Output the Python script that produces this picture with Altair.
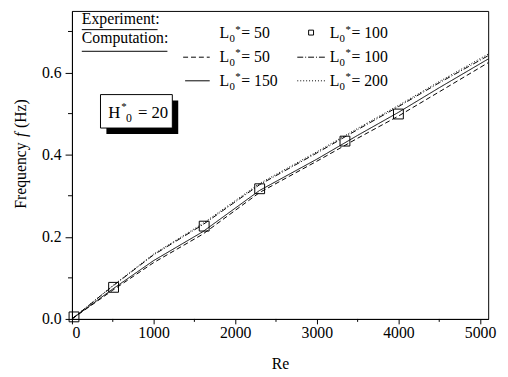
import altair as alt
import pandas as pd

# ---------------- data ----------------
re_vals = [0, 500, 1000, 1600, 2300, 3000, 3500, 4000, 4500, 5100]
f_L50 = [0.0, 0.070, 0.137, 0.206, 0.308, 0.384, 0.440, 0.494, 0.553, 0.624]
f_L100 = [0.0, 0.080, 0.156, 0.229, 0.327, 0.404, 0.461, 0.517, 0.575, 0.641]
f_L150 = [0.0, 0.073, 0.142, 0.212, 0.313, 0.389, 0.447, 0.503, 0.563, 0.633]
f_L200 = [0.0, 0.081, 0.158, 0.232, 0.330, 0.407, 0.464, 0.520, 0.578, 0.645]
series_names = ["L50", "L100", "L150", "L200"]

exp_re = [25, 510, 1620, 2300, 3345, 4000]
exp_f = [0.005, 0.077, 0.226, 0.317, 0.433, 0.499]

x_major = [0, 1000, 2000, 3000, 4000, 5000]
x_minor = [500, 1500, 2500, 3500, 4500]
y_major = [0.0, 0.2, 0.4, 0.6]
y_minor = [0.1, 0.3, 0.5, 0.7]

# ---------------- tables ----------------
rows = []
for name, vals in zip(series_names, [f_L50, f_L100, f_L150, f_L200]):
    for r, f in zip(re_vals, vals):
        rows.append({"Re": r, "f": f, "series": name})
df_lines = pd.DataFrame(rows)
df_exp = pd.DataFrame({"Re": exp_re, "f": exp_f})

W, H = 423, 313
FONT = "Liberation Serif"

xs = alt.Scale(domain=[0, 5100], nice=False, zero=False)
ys = alt.Scale(domain=[0, 0.75], nice=False, zero=False)
x_axis = alt.Axis(values=x_major, format="d", title="Re", tickSize=5,
                  labelPadding=1, titlePadding=15)
y_axis = alt.Axis(values=y_major, format=".1f", title=None, tickSize=7,
                  labelPadding=4)


def X():
    return alt.X("Re:Q", scale=xs, axis=x_axis)


def Y():
    return alt.Y("f:Q", scale=ys, axis=y_axis)


lines = alt.Chart(df_lines).mark_line(color="black", strokeWidth=1).encode(
    x=X(), y=Y(),
    strokeDash=alt.StrokeDash(
        "series:N",
        scale=alt.Scale(domain=series_names,
                        range=[[5, 3], [6, 2, 1, 2], [1, 0], [1, 2]]),
        legend=None),
    detail="series:N",
)

points = alt.Chart(df_exp).mark_point(
    shape="square", filled=False, size=100, color="black", strokeWidth=1, opacity=1
).encode(x=X(), y=Y())

xminor = alt.Chart(pd.DataFrame({"Re": x_minor})).mark_rule(color="black").encode(
    x=X(), y=alt.value(H), y2=alt.value(H + 3))
yminor = alt.Chart(pd.DataFrame({"f": y_minor})).mark_rule(color="black").encode(
    y=Y(), x=alt.value(-4), x2=alt.value(0))


def one():
    return alt.Chart(alt.Data(values=[{}]))


def txt(x, y, s, size=16, baseline="alphabetic", **kw):
    return one().mark_text(text=s, align="left", baseline=baseline, font=FONT,
                           fontSize=size, color="black", **kw).encode(
        x=alt.value(x), y=alt.value(y))


def hline(x1, x2, y, dash=None):
    kw = {}
    if dash is not None:
        kw["strokeDash"] = dash
    return one().mark_rule(color="black", strokeWidth=1, **kw).encode(
        x=alt.value(x1), x2=alt.value(x2), y=alt.value(y))


def lstar(x, y, rest):
    # L with subscript 0 and superscript *
    return [txt(x, y, "L"), txt(x + 10, y + 4, "0", size=11),
            txt(x + 16, y - 6, "*", size=11), txt(x + 22, y, rest)]


ann = []
ann.append(txt(10, 13, "Experiment:"))
ann.append(hline(10, 87, 19))
ann.append(txt(10, 33, "Computation:"))
ann.append(hline(10, 97, 41))

r1, r2, r3 = 28, 52, 76
ann += lstar(150, r1, "= 50")
ann.append(one().mark_point(shape="square", filled=False, size=25, color="black",
                            strokeWidth=1, opacity=1).encode(
    x=alt.value(243), y=alt.value(r1 - 6)))
ann += lstar(262, r1, "= 100")

ann.append(hline(113, 140, r2 - 5, [5, 3]))
ann += lstar(150, r2, "= 50")
ann.append(hline(229, 257, r2 - 5, [6, 2, 1, 2]))
ann += lstar(262, r2, "= 100")

ann.append(hline(115, 140, r3 - 5))
ann += lstar(150, r3, "= 150")
ann.append(hline(229, 257, r3 - 5, [1, 2]))
ann += lstar(262, r3, "= 200")

# H*0 = 20 box with shadow
ann.append(one().mark_rect(fill="black").encode(
    x=alt.value(35), x2=alt.value(108), y=alt.value(91), y2=alt.value(125)))
ann.append(one().mark_rect(fill="white", stroke="black", strokeWidth=1).encode(
    x=alt.value(29), x2=alt.value(102), y=alt.value(85), y2=alt.value(119)))
ann.append(txt(37, 109, "H", size=17))
ann.append(txt(50, 101, "*", size=11))
ann.append(txt(55, 113, "0", size=12))
ann.append(txt(67, 109, "= 20", size=17))

# y-axis title pieces (rotated)
y0 = 201
ann.append(txt(-52, y0, "Frequency", angle=270, baseline="middle"))
ann.append(txt(-52, y0 - 73, "f", angle=270, baseline="middle", fontStyle="italic"))
ann.append(txt(-52, y0 - 82, "(Hz)", angle=270, baseline="middle"))

chart = alt.layer(lines, points, xminor, yminor, *ann).properties(
    width=W, height=H,
    autosize=alt.AutoSizeParams(type="none"),
    padding={"left": 65, "top": 0, "right": 12, "bottom": 55},
).configure_view(stroke="black", strokeWidth=1).configure_axis(
    domainColor="black", tickColor="black", labelColor="black", labelFont=FONT,
    labelFontSize=16, grid=False, titleFont=FONT, titleFontSize=16,
    titleColor="black", titleFontWeight="normal", domainWidth=1, tickWidth=1,
)

chart.save("out.html", embed_options={"renderer": "svg", "actions": False})
